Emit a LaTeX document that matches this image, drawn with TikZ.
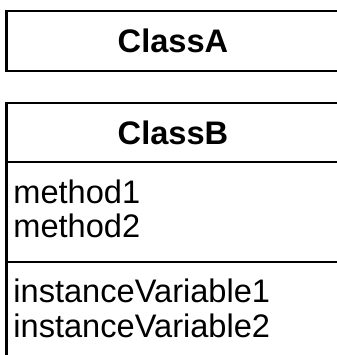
\documentclass[tikz,border=0pt]{standalone}
\usepackage{fontspec}
\setmainfont{Liberation Sans}
\usetikzlibrary{positioning}

\begin{document}
\begin{tikzpicture}[x=0.5pt,y=-0.5pt,
    box/.style={line width=1.1pt},
    title/.style={font=\fontsize{16.3}{18}\selectfont\bfseries,anchor=base,inner sep=0pt},
    member/.style={font=\fontsize{16.3}{18}\selectfont,anchor=base west,inner sep=0pt}]
  \useasboundingbox (0,0) rectangle (337,355);
  % ClassA -- name compartment only
  \draw[box] (6.5,11) rectangle (339,71);
  \node[title] (classA) at (173,52) {ClassA};
  % ClassB -- name, methods, instance variables
  \draw[box] (6.5,103) rectangle (339,365);
  \draw[box] (6.5,162) -- (339,162);
  \draw[box] (6.5,262) -- (339,262);
  \node[title] (classB) at (173,144) {ClassB};
  \node[member] (method1) at (13,203) {method1};
  \node[member] (method2) at (13,237) {method2};
  \node[member] (var1) at (13,302) {instanceVariable1};
  \node[member] (var2) at (13,337) {instanceVariable2};
\end{tikzpicture}
\end{document}
